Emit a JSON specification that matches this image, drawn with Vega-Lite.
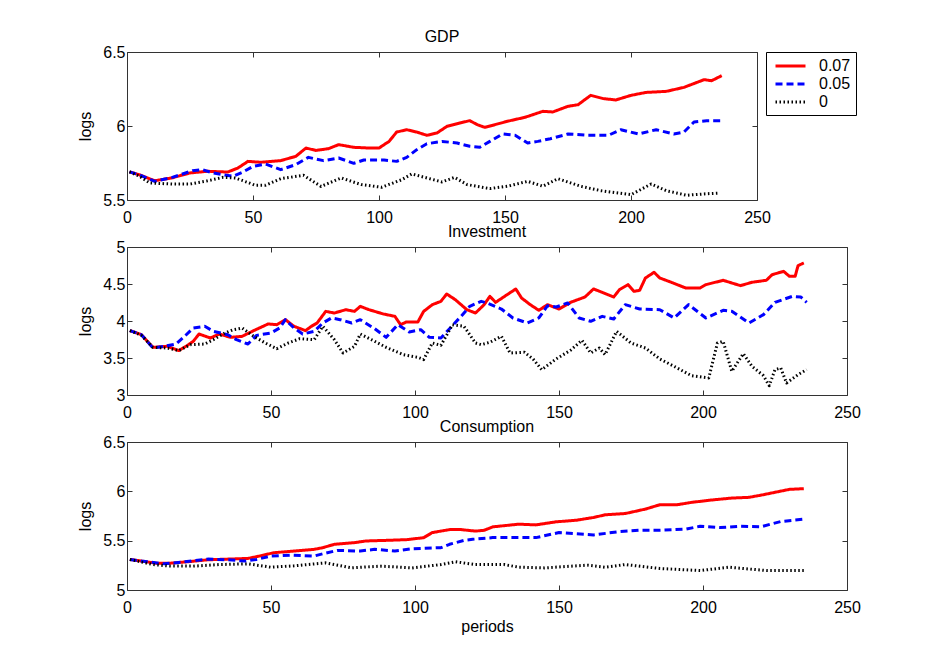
{
"$schema": "https://vega.github.io/schema/vega-lite/v6.json",
"background": "white",
"padding": {"left": 77, "top": 28, "right": 5, "bottom": 5},
"config": {
  "font": "Liberation Sans",
  "view": {"stroke": "#333333", "strokeWidth": 1},
  "axis": {"labelFont": "Liberation Sans", "labelFontSize": 16, "labelColor": "black", "titleFont": "Liberation Sans", "titleFontSize": 16, "titleFontWeight": "normal", "titleColor": "black", "domain": false, "grid": false, "tickColor": "#333333", "tickSize": -5, "labelPadding": 8, "titlePadding": 4, "labelFlush": false, "labelOverlap": false},
  "axisX": {"labelPadding": 14},
  "axisY": {"labelPadding": 7, "titlePadding": 9},
  "title": {"font": "Liberation Sans", "fontSize": 16, "fontWeight": "normal", "color": "black", "offset": -1},
  "legend": {"orient": "right", "offset": 8, "strokeColor": "black", "padding": 5, "rowPadding": 1, "labelFont": "Liberation Sans", "labelFontSize": 16, "labelColor": "black", "symbolSize": 225, "symbolStrokeWidth": 3, "symbolType": "M-0.6,0H3.4", "labelOffset": 30}
},
"spacing": 47,
"bounds": "flush",
"resolve": {"legend": {"color": "independent", "strokeDash": "independent"}},
"datasets": {
"gdp": [
{"t":1,"v":5.69,"s":"0.07"},{"t":5,"v":5.67,"s":"0.07"},{"t":11,"v":5.63,"s":"0.07"},{"t":18,"v":5.65,"s":"0.07"},{"t":25,"v":5.683,"s":"0.07"},{"t":32,"v":5.694,"s":"0.07"},{"t":40,"v":5.689,"s":"0.07"},{"t":44,"v":5.716,"s":"0.07"},{"t":48,"v":5.761,"s":"0.07"},{"t":53,"v":5.755,"s":"0.07"},{"t":61,"v":5.766,"s":"0.07"},{"t":67,"v":5.795,"s":"0.07"},{"t":71,"v":5.851,"s":"0.07"},{"t":75,"v":5.835,"s":"0.07"},{"t":80,"v":5.847,"s":"0.07"},{"t":84,"v":5.874,"s":"0.07"},{"t":90,"v":5.856,"s":"0.07"},{"t":96,"v":5.851,"s":"0.07"},{"t":100,"v":5.851,"s":"0.07"},{"t":104,"v":5.896,"s":"0.07"},{"t":107,"v":5.959,"s":"0.07"},{"t":111,"v":5.975,"s":"0.07"},{"t":115,"v":5.959,"s":"0.07"},{"t":119,"v":5.937,"s":"0.07"},{"t":123,"v":5.953,"s":"0.07"},{"t":127,"v":5.998,"s":"0.07"},{"t":132,"v":6.02,"s":"0.07"},{"t":136,"v":6.036,"s":"0.07"},{"t":139,"v":6.009,"s":"0.07"},{"t":142,"v":5.991,"s":"0.07"},{"t":146,"v":6.009,"s":"0.07"},{"t":151,"v":6.032,"s":"0.07"},{"t":158,"v":6.059,"s":"0.07"},{"t":165,"v":6.099,"s":"0.07"},{"t":169,"v":6.095,"s":"0.07"},{"t":175,"v":6.133,"s":"0.07"},{"t":179,"v":6.144,"s":"0.07"},{"t":184,"v":6.207,"s":"0.07"},{"t":189,"v":6.185,"s":"0.07"},{"t":194,"v":6.176,"s":"0.07"},{"t":200,"v":6.207,"s":"0.07"},{"t":206,"v":6.227,"s":"0.07"},{"t":214,"v":6.234,"s":"0.07"},{"t":221,"v":6.261,"s":"0.07"},{"t":229,"v":6.313,"s":"0.07"},{"t":232,"v":6.306,"s":"0.07"},{"t":236,"v":6.34,"s":"0.07"},
{"t":1,"v":5.69,"s":"0.05"},{"t":5,"v":5.67,"s":"0.05"},{"t":11,"v":5.626,"s":"0.05"},{"t":18,"v":5.653,"s":"0.05"},{"t":26,"v":5.698,"s":"0.05"},{"t":30,"v":5.705,"s":"0.05"},{"t":34,"v":5.683,"s":"0.05"},{"t":42,"v":5.66,"s":"0.05"},{"t":46,"v":5.689,"s":"0.05"},{"t":50,"v":5.727,"s":"0.05"},{"t":55,"v":5.743,"s":"0.05"},{"t":61,"v":5.705,"s":"0.05"},{"t":67,"v":5.739,"s":"0.05"},{"t":72,"v":5.788,"s":"0.05"},{"t":78,"v":5.766,"s":"0.05"},{"t":84,"v":5.784,"s":"0.05"},{"t":90,"v":5.748,"s":"0.05"},{"t":94,"v":5.77,"s":"0.05"},{"t":102,"v":5.77,"s":"0.05"},{"t":107,"v":5.761,"s":"0.05"},{"t":111,"v":5.788,"s":"0.05"},{"t":115,"v":5.84,"s":"0.05"},{"t":119,"v":5.88,"s":"0.05"},{"t":125,"v":5.896,"s":"0.05"},{"t":131,"v":5.885,"s":"0.05"},{"t":136,"v":5.863,"s":"0.05"},{"t":140,"v":5.856,"s":"0.05"},{"t":144,"v":5.896,"s":"0.05"},{"t":149,"v":5.946,"s":"0.05"},{"t":154,"v":5.937,"s":"0.05"},{"t":159,"v":5.885,"s":"0.05"},{"t":163,"v":5.896,"s":"0.05"},{"t":168,"v":5.914,"s":"0.05"},{"t":175,"v":5.946,"s":"0.05"},{"t":183,"v":5.937,"s":"0.05"},{"t":191,"v":5.937,"s":"0.05"},{"t":196,"v":5.975,"s":"0.05"},{"t":203,"v":5.946,"s":"0.05"},{"t":210,"v":5.975,"s":"0.05"},{"t":217,"v":5.946,"s":"0.05"},{"t":221,"v":5.959,"s":"0.05"},{"t":225,"v":6.027,"s":"0.05"},{"t":230,"v":6.036,"s":"0.05"},{"t":236,"v":6.036,"s":"0.05"},
{"t":1,"v":5.69,"s":"0"},{"t":5,"v":5.66,"s":"0"},{"t":9,"v":5.615,"s":"0"},{"t":18,"v":5.608,"s":"0"},{"t":25,"v":5.608,"s":"0"},{"t":32,"v":5.63,"s":"0"},{"t":38,"v":5.653,"s":"0"},{"t":43,"v":5.649,"s":"0"},{"t":51,"v":5.599,"s":"0"},{"t":55,"v":5.6,"s":"0"},{"t":61,"v":5.644,"s":"0"},{"t":70,"v":5.667,"s":"0"},{"t":77,"v":5.592,"s":"0"},{"t":85,"v":5.649,"s":"0"},{"t":93,"v":5.604,"s":"0"},{"t":101,"v":5.586,"s":"0"},{"t":109,"v":5.637,"s":"0"},{"t":113,"v":5.676,"s":"0"},{"t":119,"v":5.649,"s":"0"},{"t":125,"v":5.622,"s":"0"},{"t":130,"v":5.653,"s":"0"},{"t":135,"v":5.604,"s":"0"},{"t":144,"v":5.577,"s":"0"},{"t":151,"v":5.593,"s":"0"},{"t":159,"v":5.626,"s":"0"},{"t":165,"v":5.593,"s":"0"},{"t":171,"v":5.644,"s":"0"},{"t":180,"v":5.593,"s":"0"},{"t":188,"v":5.563,"s":"0"},{"t":200,"v":5.536,"s":"0"},{"t":208,"v":5.608,"s":"0"},{"t":214,"v":5.563,"s":"0"},{"t":222,"v":5.532,"s":"0"},{"t":229,"v":5.541,"s":"0"},{"t":235,"v":5.547,"s":"0"}
],
"inv": [
{"t":1,"v":3.87,"s":"0.07"},{"t":5,"v":3.815,"s":"0.07"},{"t":9,"v":3.644,"s":"0.07"},{"t":14,"v":3.658,"s":"0.07"},{"t":18,"v":3.6,"s":"0.07"},{"t":21,"v":3.671,"s":"0.07"},{"t":23,"v":3.725,"s":"0.07"},{"t":25,"v":3.824,"s":"0.07"},{"t":29,"v":3.77,"s":"0.07"},{"t":32,"v":3.824,"s":"0.07"},{"t":36,"v":3.779,"s":"0.07"},{"t":40,"v":3.793,"s":"0.07"},{"t":44,"v":3.87,"s":"0.07"},{"t":49,"v":3.96,"s":"0.07"},{"t":52,"v":3.95,"s":"0.07"},{"t":55,"v":4.018,"s":"0.07"},{"t":58,"v":3.928,"s":"0.07"},{"t":62,"v":3.87,"s":"0.07"},{"t":64,"v":3.928,"s":"0.07"},{"t":66,"v":3.973,"s":"0.07"},{"t":69,"v":4.13,"s":"0.07"},{"t":72,"v":4.108,"s":"0.07"},{"t":76,"v":4.153,"s":"0.07"},{"t":79,"v":4.13,"s":"0.07"},{"t":81,"v":4.198,"s":"0.07"},{"t":84,"v":4.153,"s":"0.07"},{"t":89,"v":4.095,"s":"0.07"},{"t":93,"v":4.063,"s":"0.07"},{"t":95,"v":3.95,"s":"0.07"},{"t":97,"v":3.987,"s":"0.07"},{"t":101,"v":3.987,"s":"0.07"},{"t":103,"v":4.13,"s":"0.07"},{"t":106,"v":4.22,"s":"0.07"},{"t":109,"v":4.266,"s":"0.07"},{"t":111,"v":4.365,"s":"0.07"},{"t":114,"v":4.288,"s":"0.07"},{"t":118,"v":4.153,"s":"0.07"},{"t":121,"v":4.108,"s":"0.07"},{"t":124,"v":4.22,"s":"0.07"},{"t":126,"v":4.333,"s":"0.07"},{"t":128,"v":4.252,"s":"0.07"},{"t":132,"v":4.356,"s":"0.07"},{"t":135,"v":4.433,"s":"0.07"},{"t":137,"v":4.311,"s":"0.07"},{"t":140,"v":4.221,"s":"0.07"},{"t":143,"v":4.144,"s":"0.07"},{"t":146,"v":4.221,"s":"0.07"},{"t":150,"v":4.162,"s":"0.07"},{"t":154,"v":4.252,"s":"0.07"},{"t":159,"v":4.324,"s":"0.07"},{"t":162,"v":4.433,"s":"0.07"},{"t":165,"v":4.387,"s":"0.07"},{"t":169,"v":4.324,"s":"0.07"},{"t":171,"v":4.424,"s":"0.07"},{"t":174,"v":4.491,"s":"0.07"},{"t":176,"v":4.401,"s":"0.07"},{"t":178,"v":4.414,"s":"0.07"},{"t":180,"v":4.581,"s":"0.07"},{"t":183,"v":4.658,"s":"0.07"},{"t":185,"v":4.581,"s":"0.07"},{"t":189,"v":4.523,"s":"0.07"},{"t":194,"v":4.446,"s":"0.07"},{"t":199,"v":4.446,"s":"0.07"},{"t":201,"v":4.491,"s":"0.07"},{"t":207,"v":4.55,"s":"0.07"},{"t":213,"v":4.478,"s":"0.07"},{"t":217,"v":4.523,"s":"0.07"},{"t":222,"v":4.55,"s":"0.07"},{"t":224,"v":4.626,"s":"0.07"},{"t":228,"v":4.671,"s":"0.07"},{"t":230,"v":4.604,"s":"0.07"},{"t":232,"v":4.604,"s":"0.07"},{"t":233,"v":4.748,"s":"0.07"},{"t":235,"v":4.784,"s":"0.07"},
{"t":1,"v":3.87,"s":"0.05"},{"t":5,"v":3.815,"s":"0.05"},{"t":9,"v":3.635,"s":"0.05"},{"t":13,"v":3.658,"s":"0.05"},{"t":17,"v":3.689,"s":"0.05"},{"t":20,"v":3.793,"s":"0.05"},{"t":23,"v":3.905,"s":"0.05"},{"t":27,"v":3.928,"s":"0.05"},{"t":30,"v":3.86,"s":"0.05"},{"t":35,"v":3.815,"s":"0.05"},{"t":38,"v":3.748,"s":"0.05"},{"t":42,"v":3.689,"s":"0.05"},{"t":45,"v":3.806,"s":"0.05"},{"t":50,"v":3.838,"s":"0.05"},{"t":53,"v":3.905,"s":"0.05"},{"t":55,"v":4.018,"s":"0.05"},{"t":58,"v":3.905,"s":"0.05"},{"t":61,"v":3.824,"s":"0.05"},{"t":65,"v":3.86,"s":"0.05"},{"t":68,"v":3.973,"s":"0.05"},{"t":71,"v":4.041,"s":"0.05"},{"t":74,"v":4.018,"s":"0.05"},{"t":78,"v":3.973,"s":"0.05"},{"t":81,"v":4.018,"s":"0.05"},{"t":86,"v":3.896,"s":"0.05"},{"t":90,"v":3.779,"s":"0.05"},{"t":94,"v":3.95,"s":"0.05"},{"t":98,"v":3.851,"s":"0.05"},{"t":102,"v":3.883,"s":"0.05"},{"t":105,"v":3.779,"s":"0.05"},{"t":109,"v":3.77,"s":"0.05"},{"t":112,"v":3.896,"s":"0.05"},{"t":116,"v":4.063,"s":"0.05"},{"t":119,"v":4.198,"s":"0.05"},{"t":123,"v":4.266,"s":"0.05"},{"t":125,"v":4.243,"s":"0.05"},{"t":130,"v":4.162,"s":"0.05"},{"t":134,"v":4.041,"s":"0.05"},{"t":139,"v":3.973,"s":"0.05"},{"t":143,"v":4.041,"s":"0.05"},{"t":146,"v":4.207,"s":"0.05"},{"t":149,"v":4.189,"s":"0.05"},{"t":153,"v":4.243,"s":"0.05"},{"t":157,"v":4.041,"s":"0.05"},{"t":161,"v":3.996,"s":"0.05"},{"t":165,"v":4.063,"s":"0.05"},{"t":169,"v":4.027,"s":"0.05"},{"t":173,"v":4.221,"s":"0.05"},{"t":178,"v":4.162,"s":"0.05"},{"t":185,"v":4.153,"s":"0.05"},{"t":190,"v":4.041,"s":"0.05"},{"t":195,"v":4.221,"s":"0.05"},{"t":201,"v":4.041,"s":"0.05"},{"t":207,"v":4.144,"s":"0.05"},{"t":210,"v":4.131,"s":"0.05"},{"t":216,"v":3.973,"s":"0.05"},{"t":221,"v":4.086,"s":"0.05"},{"t":225,"v":4.252,"s":"0.05"},{"t":231,"v":4.333,"s":"0.05"},{"t":234,"v":4.324,"s":"0.05"},{"t":236,"v":4.252,"s":"0.05"},
{"t":1,"v":3.87,"s":"0"},{"t":5,"v":3.806,"s":"0"},{"t":9,"v":3.644,"s":"0"},{"t":14,"v":3.635,"s":"0"},{"t":18,"v":3.6,"s":"0"},{"t":22,"v":3.68,"s":"0"},{"t":27,"v":3.689,"s":"0"},{"t":30,"v":3.748,"s":"0"},{"t":34,"v":3.838,"s":"0"},{"t":37,"v":3.883,"s":"0"},{"t":40,"v":3.905,"s":"0"},{"t":44,"v":3.793,"s":"0"},{"t":48,"v":3.703,"s":"0"},{"t":52,"v":3.626,"s":"0"},{"t":56,"v":3.703,"s":"0"},{"t":60,"v":3.761,"s":"0"},{"t":65,"v":3.748,"s":"0"},{"t":68,"v":3.928,"s":"0"},{"t":72,"v":3.748,"s":"0"},{"t":75,"v":3.568,"s":"0"},{"t":79,"v":3.658,"s":"0"},{"t":81,"v":3.824,"s":"0"},{"t":86,"v":3.725,"s":"0"},{"t":90,"v":3.644,"s":"0"},{"t":96,"v":3.545,"s":"0"},{"t":101,"v":3.509,"s":"0"},{"t":103,"v":3.478,"s":"0"},{"t":106,"v":3.703,"s":"0"},{"t":109,"v":3.671,"s":"0"},{"t":113,"v":3.95,"s":"0"},{"t":117,"v":3.928,"s":"0"},{"t":121,"v":3.703,"s":"0"},{"t":123,"v":3.68,"s":"0"},{"t":126,"v":3.712,"s":"0"},{"t":130,"v":3.793,"s":"0"},{"t":133,"v":3.568,"s":"0"},{"t":138,"v":3.577,"s":"0"},{"t":141,"v":3.487,"s":"0"},{"t":144,"v":3.342,"s":"0"},{"t":149,"v":3.487,"s":"0"},{"t":154,"v":3.604,"s":"0"},{"t":158,"v":3.739,"s":"0"},{"t":161,"v":3.568,"s":"0"},{"t":164,"v":3.635,"s":"0"},{"t":166,"v":3.545,"s":"0"},{"t":170,"v":3.86,"s":"0"},{"t":175,"v":3.703,"s":"0"},{"t":180,"v":3.635,"s":"0"},{"t":185,"v":3.487,"s":"0"},{"t":190,"v":3.387,"s":"0"},{"t":196,"v":3.261,"s":"0"},{"t":202,"v":3.23,"s":"0"},{"t":205,"v":3.703,"s":"0"},{"t":207,"v":3.725,"s":"0"},{"t":210,"v":3.32,"s":"0"},{"t":214,"v":3.559,"s":"0"},{"t":217,"v":3.387,"s":"0"},{"t":221,"v":3.261,"s":"0"},{"t":223,"v":3.126,"s":"0"},{"t":225,"v":3.342,"s":"0"},{"t":227,"v":3.365,"s":"0"},{"t":229,"v":3.162,"s":"0"},{"t":233,"v":3.275,"s":"0"},{"t":236,"v":3.342,"s":"0"}
],
"con": [
{"t":1,"v":5.31,"s":"0.07"},{"t":5,"v":5.293,"s":"0.07"},{"t":10,"v":5.272,"s":"0.07"},{"t":15,"v":5.272,"s":"0.07"},{"t":21,"v":5.286,"s":"0.07"},{"t":28,"v":5.306,"s":"0.07"},{"t":35,"v":5.313,"s":"0.07"},{"t":42,"v":5.32,"s":"0.07"},{"t":46,"v":5.344,"s":"0.07"},{"t":51,"v":5.378,"s":"0.07"},{"t":58,"v":5.395,"s":"0.07"},{"t":65,"v":5.412,"s":"0.07"},{"t":68,"v":5.429,"s":"0.07"},{"t":72,"v":5.463,"s":"0.07"},{"t":79,"v":5.48,"s":"0.07"},{"t":83,"v":5.497,"s":"0.07"},{"t":90,"v":5.503,"s":"0.07"},{"t":97,"v":5.51,"s":"0.07"},{"t":103,"v":5.53,"s":"0.07"},{"t":106,"v":5.582,"s":"0.07"},{"t":112,"v":5.612,"s":"0.07"},{"t":116,"v":5.612,"s":"0.07"},{"t":121,"v":5.597,"s":"0.07"},{"t":124,"v":5.605,"s":"0.07"},{"t":127,"v":5.64,"s":"0.07"},{"t":136,"v":5.667,"s":"0.07"},{"t":142,"v":5.66,"s":"0.07"},{"t":149,"v":5.691,"s":"0.07"},{"t":156,"v":5.707,"s":"0.07"},{"t":162,"v":5.735,"s":"0.07"},{"t":166,"v":5.762,"s":"0.07"},{"t":173,"v":5.775,"s":"0.07"},{"t":180,"v":5.82,"s":"0.07"},{"t":185,"v":5.864,"s":"0.07"},{"t":191,"v":5.864,"s":"0.07"},{"t":196,"v":5.888,"s":"0.07"},{"t":203,"v":5.912,"s":"0.07"},{"t":210,"v":5.932,"s":"0.07"},{"t":216,"v":5.939,"s":"0.07"},{"t":221,"v":5.966,"s":"0.07"},{"t":225,"v":5.99,"s":"0.07"},{"t":230,"v":6.02,"s":"0.07"},{"t":235,"v":6.027,"s":"0.07"},
{"t":1,"v":5.31,"s":"0.05"},{"t":5,"v":5.293,"s":"0.05"},{"t":13,"v":5.265,"s":"0.05"},{"t":20,"v":5.286,"s":"0.05"},{"t":28,"v":5.313,"s":"0.05"},{"t":35,"v":5.306,"s":"0.05"},{"t":41,"v":5.293,"s":"0.05"},{"t":45,"v":5.31,"s":"0.05"},{"t":50,"v":5.344,"s":"0.05"},{"t":57,"v":5.354,"s":"0.05"},{"t":65,"v":5.344,"s":"0.05"},{"t":68,"v":5.367,"s":"0.05"},{"t":73,"v":5.401,"s":"0.05"},{"t":81,"v":5.395,"s":"0.05"},{"t":86,"v":5.412,"s":"0.05"},{"t":93,"v":5.395,"s":"0.05"},{"t":99,"v":5.418,"s":"0.05"},{"t":109,"v":5.429,"s":"0.05"},{"t":112,"v":5.463,"s":"0.05"},{"t":117,"v":5.503,"s":"0.05"},{"t":120,"v":5.514,"s":"0.05"},{"t":127,"v":5.531,"s":"0.05"},{"t":142,"v":5.531,"s":"0.05"},{"t":150,"v":5.582,"s":"0.05"},{"t":162,"v":5.558,"s":"0.05"},{"t":171,"v":5.592,"s":"0.05"},{"t":178,"v":5.606,"s":"0.05"},{"t":185,"v":5.606,"s":"0.05"},{"t":194,"v":5.616,"s":"0.05"},{"t":199,"v":5.646,"s":"0.05"},{"t":206,"v":5.633,"s":"0.05"},{"t":213,"v":5.646,"s":"0.05"},{"t":220,"v":5.64,"s":"0.05"},{"t":227,"v":5.694,"s":"0.05"},{"t":235,"v":5.718,"s":"0.05"},
{"t":1,"v":5.31,"s":"0"},{"t":9,"v":5.258,"s":"0"},{"t":15,"v":5.242,"s":"0"},{"t":23,"v":5.242,"s":"0"},{"t":32,"v":5.258,"s":"0"},{"t":42,"v":5.265,"s":"0"},{"t":50,"v":5.231,"s":"0"},{"t":58,"v":5.245,"s":"0"},{"t":69,"v":5.275,"s":"0"},{"t":78,"v":5.224,"s":"0"},{"t":88,"v":5.242,"s":"0"},{"t":99,"v":5.224,"s":"0"},{"t":109,"v":5.258,"s":"0"},{"t":114,"v":5.286,"s":"0"},{"t":121,"v":5.258,"s":"0"},{"t":131,"v":5.258,"s":"0"},{"t":136,"v":5.231,"s":"0"},{"t":145,"v":5.224,"s":"0"},{"t":160,"v":5.252,"s":"0"},{"t":166,"v":5.231,"s":"0"},{"t":173,"v":5.258,"s":"0"},{"t":185,"v":5.218,"s":"0"},{"t":199,"v":5.197,"s":"0"},{"t":209,"v":5.231,"s":"0"},{"t":222,"v":5.197,"s":"0"},{"t":235,"v":5.197,"s":"0"}
]
},
"vconcat": [
{
 "width": 630, "height": 148,
 "title": "GDP",
 "data": {"name": "gdp"},
 "resolve": {"axis": {"x": "independent", "y": "independent"}},
 "layer": [
  {"mark": {"type": "line", "strokeWidth": 3, "strokeJoin": "round"},
   "encoding": {
    "x": {"field": "t", "type": "quantitative", "scale": {"domain": [0, 250], "nice": false}, "axis": {"orient": "bottom", "values": [0, 50, 100, 150, 200, 250], "title": null}},
    "y": {"field": "v", "type": "quantitative", "scale": {"domain": [5.5, 6.5], "nice": false, "zero": false}, "axis": {"orient": "left", "values": [5.5, 6, 6.5], "format": "~g", "title": "logs"}},
    "color": {"field": "s", "type": "nominal", "scale": {"domain": ["0.07", "0.05", "0"], "range": ["#ff0000", "#0000ff", "#000000"]}, "legend": {"title": null}},
    "strokeDash": {"field": "s", "type": "nominal", "scale": {"domain": ["0.07", "0.05", "0"], "range": [[1, 0], [7, 4], [1.5, 2.5]]}, "legend": {"title": null}}
   }},
  {"mark": {"type": "line", "strokeOpacity": 0},
   "encoding": {
    "x": {"field": "t", "type": "quantitative", "scale": {"domain": [0, 250], "nice": false}, "axis": {"orient": "top", "values": [0, 50, 100, 150, 200, 250], "labels": false, "title": null}},
    "y": {"field": "v", "type": "quantitative", "scale": {"domain": [5.5, 6.5], "nice": false, "zero": false}, "axis": {"orient": "right", "values": [5.5, 6, 6.5], "labels": false, "title": null}}
   }}
 ]
},
{
 "width": 720, "height": 148,
 "title": "Investment",
 "data": {"name": "inv"},
 "resolve": {"axis": {"x": "independent", "y": "independent"}},
 "layer": [
  {"mark": {"type": "line", "strokeWidth": 3, "strokeJoin": "round"},
   "encoding": {
    "x": {"field": "t", "type": "quantitative", "scale": {"domain": [0, 250], "nice": false}, "axis": {"orient": "bottom", "values": [0, 50, 100, 150, 200, 250], "title": null}},
    "y": {"field": "v", "type": "quantitative", "scale": {"domain": [3, 5], "nice": false, "zero": false}, "axis": {"orient": "left", "values": [3, 3.5, 4, 4.5, 5], "format": "~g", "title": "logs"}},
    "color": {"field": "s", "type": "nominal", "scale": {"domain": ["0.07", "0.05", "0"], "range": ["#ff0000", "#0000ff", "#000000"]}, "legend": null},
    "strokeDash": {"field": "s", "type": "nominal", "scale": {"domain": ["0.07", "0.05", "0"], "range": [[1, 0], [7, 4], [1.5, 2.5]]}, "legend": null}
   }},
  {"mark": {"type": "line", "strokeOpacity": 0},
   "encoding": {
    "x": {"field": "t", "type": "quantitative", "scale": {"domain": [0, 250], "nice": false}, "axis": {"orient": "top", "values": [0, 50, 100, 150, 200, 250], "labels": false, "title": null}},
    "y": {"field": "v", "type": "quantitative", "scale": {"domain": [3, 5], "nice": false, "zero": false}, "axis": {"orient": "right", "values": [3, 3.5, 4, 4.5, 5], "labels": false, "title": null}}
   }}
 ]
},
{
 "width": 720, "height": 148,
 "title": "Consumption",
 "data": {"name": "con"},
 "resolve": {"axis": {"x": "independent", "y": "independent"}},
 "layer": [
  {"mark": {"type": "line", "strokeWidth": 3, "strokeJoin": "round"},
   "encoding": {
    "x": {"field": "t", "type": "quantitative", "scale": {"domain": [0, 250], "nice": false}, "axis": {"orient": "bottom", "values": [0, 50, 100, 150, 200, 250], "title": "periods", "titlePadding": 3}},
    "y": {"field": "v", "type": "quantitative", "scale": {"domain": [5, 6.5], "nice": false, "zero": false}, "axis": {"orient": "left", "values": [5, 5.5, 6, 6.5], "format": "~g", "title": "logs"}},
    "color": {"field": "s", "type": "nominal", "scale": {"domain": ["0.07", "0.05", "0"], "range": ["#ff0000", "#0000ff", "#000000"]}, "legend": null},
    "strokeDash": {"field": "s", "type": "nominal", "scale": {"domain": ["0.07", "0.05", "0"], "range": [[1, 0], [7, 4], [1.5, 2.5]]}, "legend": null}
   }},
  {"mark": {"type": "line", "strokeOpacity": 0},
   "encoding": {
    "x": {"field": "t", "type": "quantitative", "scale": {"domain": [0, 250], "nice": false}, "axis": {"orient": "top", "values": [0, 50, 100, 150, 200, 250], "labels": false, "title": null}},
    "y": {"field": "v", "type": "quantitative", "scale": {"domain": [5, 6.5], "nice": false, "zero": false}, "axis": {"orient": "right", "values": [5, 5.5, 6, 6.5], "labels": false, "title": null}}
   }}
 ]
}
]
}
